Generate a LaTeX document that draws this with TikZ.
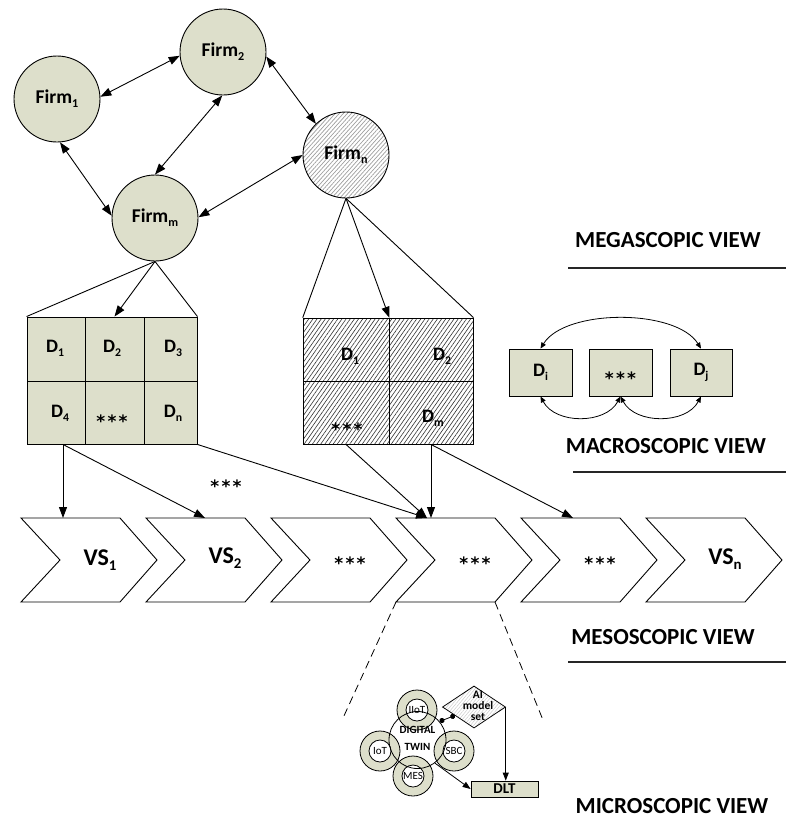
\documentclass[tikz,border=0pt]{standalone}
\usepackage{fontspec}
\setmainfont{Carlito}
\newfontfamily\astfont{DejaVu Sans}
\usepackage{graphicx}
\usetikzlibrary{arrows.meta,patterns.meta,shapes.geometric,calc}
\definecolor{beige}{RGB}{221,223,203}
\newcommand\mysub[1]{\raisebox{-0.22em}{\scalebox{0.62}{#1}}}
\newcommand\tristar{*\kern2.2pt*\kern2.2pt*}
\begin{document}
\begin{tikzpicture}[x=1pt,y=-1pt,
  firm/.style={circle, draw, line width=0.9pt, fill=beige, minimum size=86pt, inner sep=0pt, font=\fontsize{19.5}{22}\selectfont\bfseries},
  link/.style={line width=0.9pt, {Triangle[length=11pt,width=8pt]}-{Triangle[length=11pt,width=8pt]}},
  arr/.style={line width=0.9pt, -{Triangle[length=11pt,width=8pt]}},
  plain/.style={line width=0.9pt},
  cell/.style={rectangle, draw, line width=0.9pt, fill=beige, inner sep=0pt},
  hcell/.style={rectangle, draw, line width=0.9pt, inner sep=0pt, pattern={Lines[angle=55,distance=3.4pt,line width=0.6pt]}, pattern color=black!80},
  dlab/.style={inner sep=0pt, font=\fontsize{19}{22}\selectfont\bfseries},
  ast/.style={inner sep=0pt, font=\fontsize{17}{20}\selectfont\astfont\bfseries},
  vslab/.style={inner sep=0pt, font=\fontsize{24}{28}\selectfont\bfseries},
  chev/.style={draw, line width=0.9pt, fill=white},
  mbox/.style={rectangle, draw, line width=0.9pt, fill=beige, minimum width=63pt, minimum height=47pt, inner sep=0pt, font=\fontsize{19}{22}\selectfont\bfseries},
  sa/.style={line width=0.8pt, {Triangle[length=6pt,width=5pt]}-{Triangle[length=6pt,width=5pt]}},
  view/.style={inner sep=0pt, font=\fontsize{23}{27}\selectfont\bfseries},
  rule/.style={line width=1.3pt, black!85},
  ring/.style={circle, draw, line width=0.8pt, fill=beige, minimum size=40pt, inner sep=0pt},
  inring/.style={circle, draw, line width=0.8pt, fill=white, minimum size=22pt, inner sep=0pt, font=\fontsize{11}{12}\selectfont},
  arr2/.style={line width=0.8pt, -{Triangle[length=8pt,width=6pt]}}
]
\fill[white] (0,0) rectangle (789,831);
\useasboundingbox (0,0) rectangle (789,831);

% ---------- megascopic: firms ----------
\node[firm] (f1) at (57,99) {Firm\mysub{1}};
\node[firm] (f2) at (223,52) {Firm\mysub{2}};
\node[firm] (fm) at (155,218) {Firm\mysub{m}};
\node[firm, pattern={Lines[angle=48,distance=3pt,line width=0.7pt]}, pattern color=black!38] (fn) at (346,155) {Firm\mysub{n}};

\draw[link] (f1.3) -- (f2.185);
\draw[link] (f2.269) -- (fm.90);
\draw[link] (f1.274) -- (fm.177);
\draw[link] (f2.354) -- (fn.134);
\draw[link] (fm.1) -- (fn.180);

% ---------- left grid ----------
\node[cell, minimum width=58pt, minimum height=64pt] (L11) at (56,349) {};
\node[cell, minimum width=59pt, minimum height=64pt] (L12) at (114.5,349) {};
\node[cell, minimum width=53pt, minimum height=64pt] (L13) at (170.5,349) {};
\node[cell, minimum width=58pt, minimum height=63pt] (L21) at (56,412.5) {};
\node[cell, minimum width=59pt, minimum height=63pt] (L22) at (114.5,412.5) {};
\node[cell, minimum width=53pt, minimum height=63pt] (L23) at (170.5,412.5) {};
\node[dlab] (tL11) at (55,348) {D\mysub{1}};
\node[dlab] (tL12) at (112,348) {D\mysub{2}};
\node[dlab] (tL13) at (173,348) {D\mysub{3}};
\node[dlab] (tL21) at (60,413) {D\mysub{4}};
\node[ast] (tL22) at (112,421.5) {\tristar};
\node[dlab] (tL23) at (173,413) {D\mysub{n}};

% ---------- right grid ----------
\node[hcell, minimum width=86pt, minimum height=63pt] (R11) at (346,349.5) {};
\node[hcell, minimum width=84pt, minimum height=63pt] (R12) at (431,349.5) {};
\node[hcell, minimum width=86pt, minimum height=63pt] (R21) at (346,412.5) {};
\node[hcell, minimum width=84pt, minimum height=63pt] (R22) at (431,412.5) {};
\node[dlab] (tR11) at (350,356) {D\mysub{1}};
\node[dlab] (tR12) at (442,356) {D\mysub{2}};
\node[ast] (tR21) at (347,429.5) {\tristar};
\node[dlab] (tR22) at (433,418) {D\mysub{m}};

\draw[plain] (fm.south) -- (L11.north west);
\draw[arr] (fm.south) -- (L12.north);
\draw[plain] (fm.south) -- (L13.north east);
\draw[plain] (fn.south) -- (R11.north west);
\draw[arr] (fn.south) -- (R11.north east);
\draw[plain] (fn.south) -- (R12.north east);

% ---------- chevrons ----------
\foreach \k/\t/\dy/\st in {0/{VS\mysub{1}}/0/vslab,1/{VS\mysub{2}}/-2/vslab,2/{\tristar}/3.5/ast,3/{\tristar}/3.5/ast,4/{\tristar}/3.5/ast,5/{VS\mysub{n}}/-1/vslab}{
  \pgfmathsetmacro\xo{21+125*\k}
  \draw[chev] (\xo,518) -- ++(99,0) -- ++(37,42) -- ++(-37,42) -- ++(-99,0) -- ++(39,-42) -- cycle;
  \node[\st] (vs\k) at (\xo+79,560+\dy) {\t};
}
\coordinate (t1) at (63,518);
\coordinate (t2) at (205,518);
\coordinate (t4a) at (427,518);
\coordinate (t4b) at (431,518);
\coordinate (t5) at (573,518);

\draw[arr] (t1 |- L21.south) -- (t1);
\draw[arr] (t1 |- L21.south) -- (t2);
\draw[arr] (L23.south east) -- (t4a);
\draw[arr] (R21.south) -- (t4a);
\draw[arr] (R22.south) -- (t4b);
\draw[arr] (R22.south) -- (t5);

\node[ast] (stars) at (226,486.5) {\tristar};

% ---------- macroscopic ----------
\node[mbox] (di) at (540.5,372.5) {D\mysub{i}};
\node[mbox] (dd) at (620.5,372.5) {};
\node[ast] (ddt) at (620.5,378) {\tristar};
\node[mbox, minimum width=62pt] (dj) at (701,372.5) {D\mysub{j}};
\draw[sa] (di.north) .. controls +(25,-40) and +(-25,-40) .. (dj.north);
\draw[sa] (di.south) .. controls +(15,28) and +(-15,28) .. (dd.south);
\draw[sa] (dd.south) .. controls +(15,28) and +(-15,28) .. (dj.south);

% ---------- view titles ----------
\node[view] (v1) at (668,240) {MEGASCOPIC VIEW};
\draw[rule] (568,268) -- (786,268);
\node[view] (v2) at (666,446) {MACROSCOPIC VIEW};
\draw[rule] (573,472) -- (786,472);
\node[view] (v3) at (663,637) {MESOSCOPIC VIEW};
\draw[rule] (568,662) -- (786,662);
\node[view] (v4) at (672,806) {MICROSCOPIC VIEW};

% ---------- microscopic ----------
\coordinate (b4l) at (396,602);
\coordinate (b4r) at (495,602);
\coordinate (dl) at (343,718);
\coordinate (dr) at (543,720);
\draw[line width=0.8pt, dash pattern=on 8pt off 5pt] (b4l) -- (dl);
\draw[line width=0.8pt, dash pattern=on 8pt off 5pt] (b4r) -- (dr);

\node[ring] (r1) at (417,710) {};
\node[ring] (r2) at (380,751) {};
\node[ring] (r3) at (454,751) {};
\node[ring] (r4) at (413,776) {};
\node[inring] (i1) at (417,710) {IIoT};
\node[inring] (i2) at (380,751) {IoT};
\node[inring] (i3) at (454,751) {SBC};
\node[inring] (i4) at (413,776) {MES};
\node[circle, draw, line width=0.8pt, minimum size=57pt, inner sep=0pt] (dt) at (417.5,740) {};
\node[inner sep=0pt, align=center, font=\fontsize{11}{17}\selectfont\bfseries] (dtt) at (417.5,738.5) {DIGITAL\\TWIN};

\node[diamond, draw, line width=0.8pt, minimum width=63pt, minimum height=42pt, inner sep=0pt, pattern={Lines[angle=50,distance=2.5pt,line width=0.5pt]}, pattern color=black!20] (ai) at (474,707) {};
\node[inner sep=0pt, align=center, font=\fontsize{11.5}{11}\selectfont\bfseries] (ait) at (478,706) {AI\\model\\set};

\node[rectangle, draw, line width=0.8pt, fill=beige, minimum width=67pt, minimum height=16pt, inner sep=0pt, font=\fontsize{15}{16}\selectfont\bfseries] (dlt) at (504.5,789) {DLT};

\draw[arr2] (dt.-53) -- (dlt.west);
\draw[arr2] (ai.east) -- (ai.east |- dlt.north);
\draw[line width=0.8pt, {Circle[length=5pt]}-{Circle[length=5pt]}] (dt.40) -- ($(ai.west)!0.4!(ai.south)$);
\end{tikzpicture}
\end{document}
